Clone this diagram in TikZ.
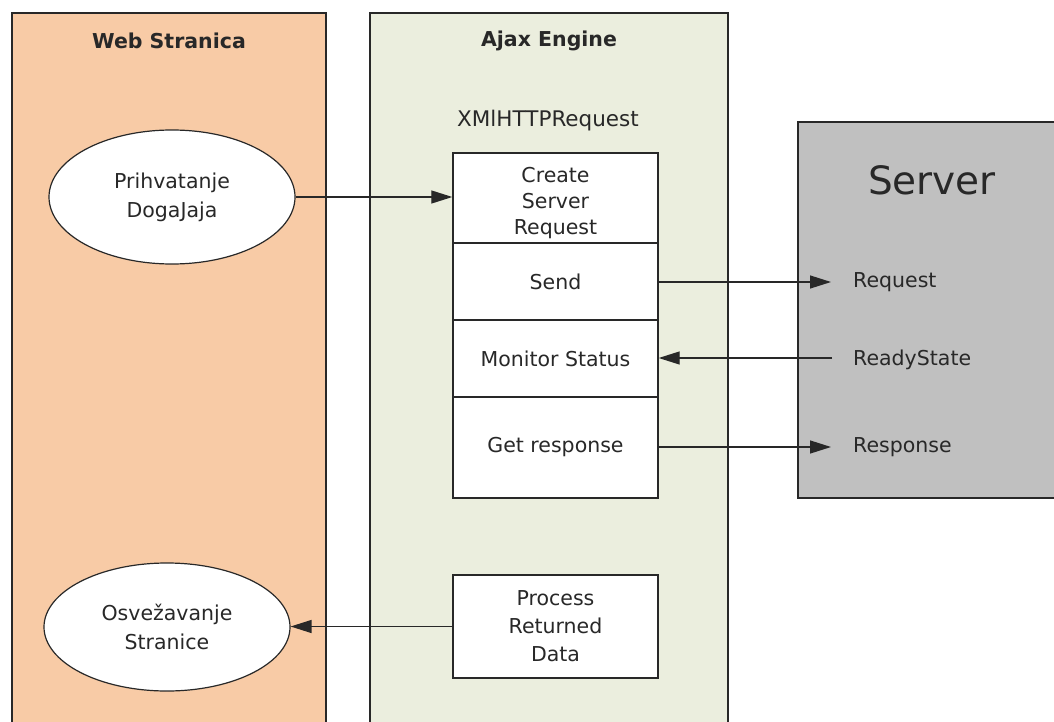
\documentclass[tikz,border=0pt]{standalone}
\usepackage{fontspec}
\setmainfont{DejaVu Sans}
\usetikzlibrary{shapes.geometric,arrows.meta}
\definecolor{webfill}{RGB}{248,203,166}
\definecolor{ajaxfill}{RGB}{235,238,222}
\definecolor{srvfill}{RGB}{192,192,192}
\definecolor{ink}{RGB}{40,40,40}
\tikzset{
  panel/.style={draw=ink, line width=1.4pt},
  cell/.style={draw=ink, line width=1.4pt, fill=white, rectangle, minimum width=205pt, inner sep=0pt, align=center, font=\fontsize{20.5}{28}\selectfont, text=ink},
  event/.style={draw=ink, line width=1.2pt, fill=white, ellipse, inner sep=0pt, align=center, font=\fontsize{20.5}{29}\selectfont, text=ink},
  title/.style={font=\bfseries\fontsize{20.5}{24}\selectfont, text=ink},
  lbl/.style={font=\fontsize{20.5}{24}\selectfont, text=ink, anchor=west, inner sep=0pt},
  flow/.style={draw=ink, line width=1.3pt, -{Triangle[length=21pt,width=13pt]}}
}
\begin{document}
\begin{tikzpicture}[x=1pt,y=-1pt]
\clip (0,0) rectangle (1054,722);
\fill[white] (0,0) rectangle (1054,722);

% lanes
\filldraw[panel, fill=webfill] (12,13) rectangle (326,760);
\filldraw[panel, fill=ajaxfill] (370,13) rectangle (728,760);
\filldraw[panel, fill=srvfill] (798,122) rectangle (1080,498);

\node[title] (webt) at (169,41) {Web Stranica};
\node[title] (ajaxt) at (549,41) {Ajax Engine};
\node[font=\fontsize{21.5}{24}\selectfont, text=ink] (xhr) at (548,121) {XMlHTTPRequest};
\node[font=\fontsize{39}{44}\selectfont, text=ink] (srv) at (932,180) {Server};

% XMLHttpRequest steps
\node[cell, minimum height=90pt] (create) at (555.5,198) {};
\node[font=\fontsize{20.5}{26}\selectfont, text=ink, align=center] (createtxt) at ([yshift=-5pt]create.center) {Create\\Server\\Request};
\node[cell, minimum height=77pt] (send) at (555.5,281.5) {Send};
\node[cell, minimum height=77pt] (monitor) at (555.5,358.5) {Monitor Status};
\node[cell, minimum height=101pt] (getr) at (555.5,447.5) {Get response};
\node[cell, minimum height=103pt] (proc) at (555.5,626.5) {Process\\Returned\\Data};

% page events
\node[event, minimum width=246pt, minimum height=134pt] (evt) at (172,197) {Prihvatanje\\DogaJaja};
\node[event, minimum width=246pt, minimum height=128pt] (ref) at (167,627) {Osvežavanje\\Stranice};

% server side labels
\node[lbl] (req) at (853,282) {Request};
\node[lbl] (rdy) at (853,360) {ReadyState};
\node[lbl] (resp) at (853,447) {Response};
\coordinate (reqin) at (831,282);
\coordinate (rdyout) at (832,358);
\coordinate (respin) at (831,447);

% connectors
\draw[flow] (evt.east) -- (evt.east -| create.west);
\draw[flow] (send.east |- reqin) -- (reqin);
\draw[flow] (rdyout) -- (rdyout -| monitor.east);
\draw[flow] (getr.east |- respin) -- (respin);
\draw[flow] (proc.west) -- (proc.west -| ref.east);
\end{tikzpicture}
\end{document}
